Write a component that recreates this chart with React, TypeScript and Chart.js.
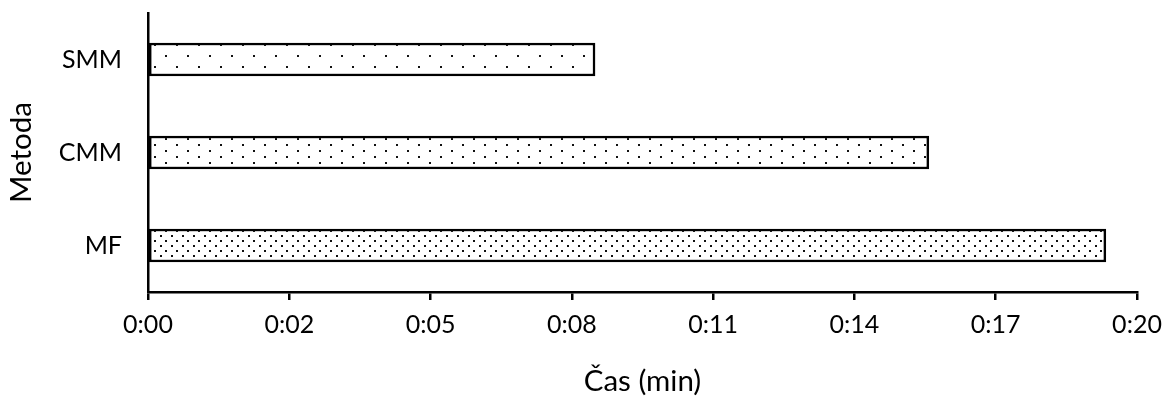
import React, { useEffect, useRef } from "react";
import { Chart, registerables } from "chart.js";

Chart.register(...registerables);

const categories = ["SMM", "CMM", "MF"];
const timeSeconds = [9.04, 15.79, 19.37];
const tickLabels = ["0:00", "0:02", "0:05", "0:08", "0:11", "0:14", "0:17", "0:20"];
const axisMin = 0;
const axisMax = 20;
const xTitle = "Čas (min)";
const yTitle = "Metoda";

// dot pattern tiles
const patternSpecs: { w: number; h: number; dots: [number, number][] }[] = [
  { w: 22, h: 22, dots: [[0, 0], [11, 11]] },
  { w: 22, h: 12, dots: [[0, 0], [11, 6]] },
  { w: 22, h: 10, dots: [[0, 0], [11, 0], [6, 5], [17, 5]] },
];

function makePattern(ctx: CanvasRenderingContext2D, spec: { w: number; h: number; dots: [number, number][] }) {
  const c = document.createElement("canvas");
  c.width = spec.w;
  c.height = spec.h;
  const g = c.getContext("2d")!;
  g.fillStyle = "#ffffff";
  g.fillRect(0, 0, spec.w, spec.h);
  g.fillStyle = "#111111";
  for (const [x, y] of spec.dots) g.fillRect(x, y, 2, 2);
  return ctx.createPattern(c, "repeat")!;
}

export default function App() {
  const ref = useRef<HTMLCanvasElement | null>(null);

  useEffect(() => {
    const canvas = ref.current!;
    const ctx = canvas.getContext("2d")!;
    const patterns = patternSpecs.map((s) => makePattern(ctx, s));
    const font = "Lato, 'Open Sans', sans-serif";
    const zeroPad = (s: any) => {
      s.paddingTop = 0;
      s.paddingBottom = 0;
      s.paddingLeft = 0;
      s.paddingRight = 0;
    };
    const chart = new Chart(canvas, {
      type: "bar",
      data: {
        labels: categories,
        datasets: [
          {
            data: timeSeconds,
            backgroundColor: patterns as any,
            borderColor: "#000000",
            borderWidth: 2.5,
            borderSkipped: false,
            barThickness: 33,
            categoryPercentage: 1,
          },
        ],
      },
      options: {
        indexAxis: "y",
        responsive: false,
        animation: false,
        layout: { padding: { top: 13, right: 26, left: 0, bottom: 0 } },
        plugins: { legend: { display: false }, tooltip: { enabled: false } },
        scales: {
          x: {
            type: "linear",
            min: axisMin,
            max: axisMax,
            afterBuildTicks: (s: any) => {
              s.ticks = tickLabels.map((_, i) => ({
                value: axisMin + (i * (axisMax - axisMin)) / (tickLabels.length - 1),
              }));
            },
            afterFit: (s: any) => {
              s.height = 107;
              zeroPad(s);
            },
            ticks: {
              autoSkip: false,
              maxRotation: 0,
              callback: (_v: any, i: number) => tickLabels[i],
              color: "#000000",
              font: { family: font, size: 25 },
              padding: 10,
            },
            grid: {
              display: true,
              drawOnChartArea: false,
              drawTicks: true,
              tickLength: 8,
              color: "#000000",
              lineWidth: 2.5,
            },
            border: { display: true, color: "#000000", width: 2.5 },
            title: {
              display: true,
              text: xTitle,
              color: "#000000",
              font: { family: font, size: 29.5 },
              padding: { top: 0, bottom: 0 },
            },
          },
          y: {
            afterFit: (s: any) => {
              s.width = 148;
              zeroPad(s);
            },
            ticks: {
              color: "#000000",
              font: { family: font, size: 25 },
              padding: 26,
            },
            grid: { display: false, drawTicks: false },
            border: { display: true, color: "#000000", width: 2.5 },
            title: {
              display: true,
              text: yTitle,
              color: "#000000",
              font: { family: font, size: 29.5 },
              padding: { top: 4, bottom: 0 },
            },
          },
        },
      },
    });
    return () => chart.destroy();
  }, []);

  return (
    <div style={{ position: "absolute", left: 0, top: 0, width: 1163, height: 399, background: "#fff" }}>
      <canvas ref={ref} width={1163} height={399} style={{ width: 1163, height: 399, display: "block" }} />
    </div>
  );
}
